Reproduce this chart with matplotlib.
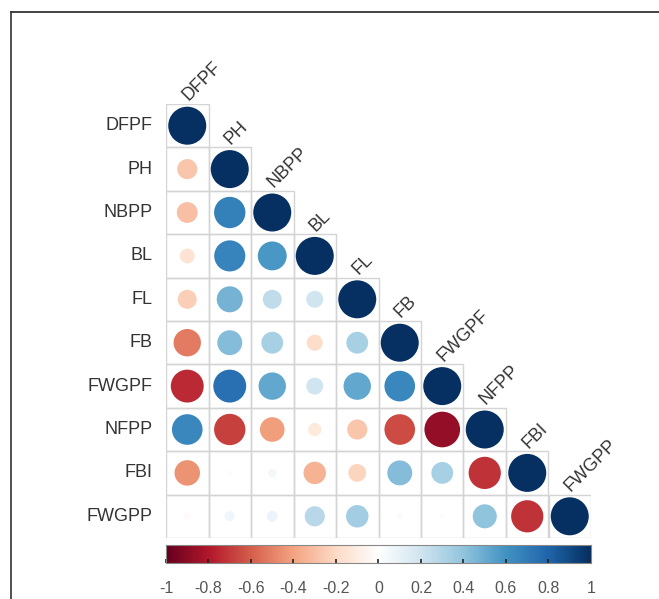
import numpy as np
import matplotlib.pyplot as plt
from matplotlib.colors import LinearSegmentedColormap
from matplotlib.patches import Rectangle
from matplotlib.lines import Line2D

plt.rcParams['font.family'] = ['Liberation Sans', 'DejaVu Sans']

# Variables and lower-triangle correlation coefficients (row by row)
names = ['DFPF', 'PH', 'NBPP', 'BL', 'FL', 'FB', 'FWGPF', 'NFPP', 'FBI', 'FWGPP']
corr_rows = [
    [1.00],
    [-0.28, 1.00],
    [-0.30, 0.68, 1.00],
    [-0.15, 0.67, 0.58, 1.00],
    [-0.25, 0.47, 0.25, 0.20, 1.00],
    [-0.52, 0.43, 0.33, -0.18, 0.33, 1.00],
    [-0.75, 0.75, 0.52, 0.20, 0.52, 0.65, 1.00],
    [0.65, -0.68, -0.42, -0.12, -0.28, -0.65, -0.88, 1.00],
    [-0.45, 0.02, 0.05, -0.35, -0.22, 0.43, 0.33, -0.72, 1.00],
    [-0.03, 0.07, 0.08, 0.28, 0.35, 0.03, 0.02, 0.40, -0.72, 1.00],
]
cbar_ticks = [-1, -0.8, -0.6, -0.4, -0.2, 0, 0.2, 0.4, 0.6, 0.8, 1]

# corrplot-style red/blue palette
rdbu = ['#67001F', '#B2182B', '#D6604D', '#F4A582', '#FDDBC7', '#FFFFFF',
        '#D1E5F0', '#92C5DE', '#4393C3', '#2166AC', '#053061']
cmap = LinearSegmentedColormap.from_list('corr', rdbu)

W, H = 659, 599
fig = plt.figure(figsize=(W / 100, H / 100), dpi=100)

# main grid area in pixels
gx0, gx1, gy0, gy1 = 166, 591, 104, 538
ax = fig.add_axes([gx0 / W, 1 - gy1 / H, (gx1 - gx0) / W, (gy1 - gy0) / H])
n = len(names)
ax.set_xlim(0, n)
ax.set_ylim(n, 0)
ax.axis('off')

max_r_px = 19.0
for i, row in enumerate(corr_rows):
    for j, r in enumerate(row):
        ax.add_patch(Rectangle((j, i), 1, 1, facecolor='none',
                               edgecolor='#d4d4d4', lw=1.0, zorder=1))
    xs = np.arange(len(row)) + 0.5
    vals = np.array(row)
    sizes = (2 * max_r_px * np.sqrt(np.abs(vals)) * 0.72) ** 2
    ax.scatter(xs, np.full(len(row), i + 0.5), s=sizes, c=vals, cmap=cmap,
               vmin=-1, vmax=1, edgecolors='none', zorder=2, clip_on=False)

for i, name in enumerate(names):
    ax.text(-0.32, i + 0.5, name, ha='right', va='center', fontsize=13,
            color='#333333')
    ax.text(i + 0.52, i - 0.06, name, ha='left', va='baseline', fontsize=13,
            color='#333333', rotation=45, rotation_mode='anchor')

# colour legend bar
cy0, cy1 = 545, 563
cax = fig.add_axes([gx0 / W, 1 - cy1 / H, (gx1 - gx0) / W, (cy1 - cy0) / H])
grad = np.linspace(-1, 1, 400).reshape(1, -1)
cax.imshow(grad, aspect='auto', cmap=cmap, vmin=-1, vmax=1,
           extent=[-1, 1, 0, 1])
cax.set_xlim(-1, 1)
cax.set_yticks([])
cax.set_xticks(cbar_ticks)
cax.set_xticklabels([('%g' % t) for t in cbar_ticks], fontsize=11.5,
                    color='#555555')
cax.tick_params(axis='x', direction='in', length=3, width=1.2,
                color='#222222', pad=13)
for s in cax.spines.values():
    s.set_color('#888888')
    s.set_linewidth(0.8)

# frame lines along the top and left
fig.add_artist(Line2D([11 / W, 1], [1 - 12 / H, 1 - 12 / H], color='#222222', lw=1.2))
fig.add_artist(Line2D([11 / W, 11 / W], [0, 1 - 12 / H], color='#333333', lw=1.2))

fig.savefig('out.png', dpi=100)
